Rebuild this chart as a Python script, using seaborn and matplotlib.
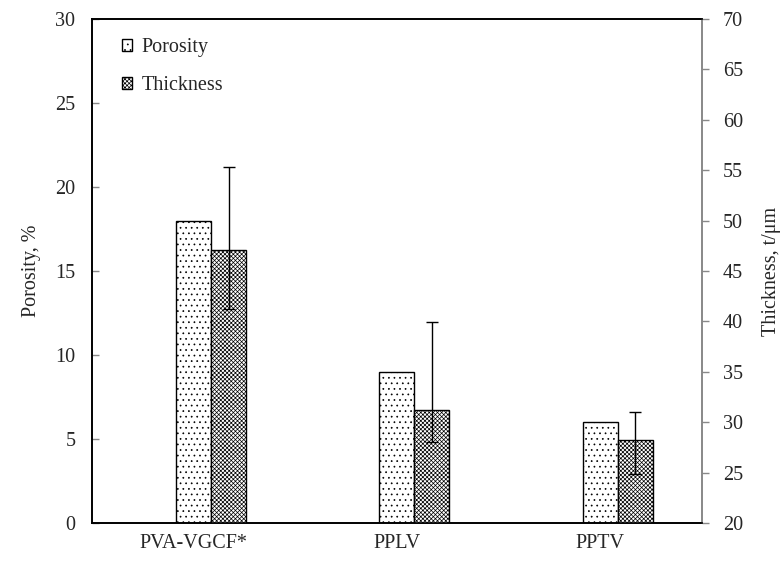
import numpy as np
import pandas as pd
import matplotlib
matplotlib.use("Agg")
import matplotlib.pyplot as plt
from matplotlib.patches import Patch
import seaborn as sns

# Data
categories = ["PVA-VGCF*", "PPLV", "PPTV"]
porosity = [18.0, 9.0, 6.0]                 # %
thickness = [47.1, 31.2, 28.2]              # µm
thickness_err_low = [5.9, 3.2, 3.3]
thickness_err_high = [8.2, 8.7, 2.8]
series = ["Porosity", "Thickness"]

sns.set_theme(style="white")
plt.rcParams["font.family"] = ["Liberation Serif", "DejaVu Serif"]
plt.rcParams["hatch.linewidth"] = 0.5
FS = 14.5
HATCH_P = "..."
HATCH_T = "xxxxxxxx"

fig = plt.figure(figsize=(7.84, 5.67), dpi=100)
ax1 = fig.add_axes([0.1173, 0.0776, 0.778, 0.889])
ax2 = ax1.twinx()

# three dodge slots per category: an empty leading slot keeps the porosity bar
# centred on its tick with the thickness bar just to its right
slots = ["_pad"] + series
n = len(categories)
df_left = pd.DataFrame({
    "cat": categories * 3,
    "series": [s for s in slots for _ in range(n)],
    "value": [np.nan] * n + porosity + [np.nan] * n,
})
df_right = pd.DataFrame({
    "cat": categories * 3,
    "series": [s for s in slots for _ in range(n)],
    "value": [np.nan] * n + [np.nan] * n + thickness,
})

bar_kw = dict(x="cat", y="value", hue="series", hue_order=slots, order=categories,
              palette=["white"] * 3, width=0.516, gap=0, edgecolor="black",
              linewidth=1.0, errorbar=None, legend=False, saturation=1)
sns.barplot(data=df_left, ax=ax1, **bar_kw)
sns.barplot(data=df_right, ax=ax2, **bar_kw)

for p in ax1.patches:
    p.set_hatch(HATCH_P)
for p in ax2.patches:
    p.set_hatch(HATCH_T)

# error bars on the thickness bars
thick_patches = [p for p in ax2.patches if np.isfinite(p.get_height()) and p.get_height() > 0]
thick_patches.sort(key=lambda p: p.get_x())
xs = [p.get_x() + p.get_width() / 2 for p in thick_patches]
ax2.errorbar(xs, thickness, yerr=[thickness_err_low, thickness_err_high], fmt="none",
             ecolor="black", elinewidth=1.0, capsize=4, capthick=1.0, zorder=5)

ax1.set_xlim(-0.5, 2.5)
ax1.set_ylim(0, 30)
ax1.set_yticks(np.arange(0, 31, 5))
ax2.set_ylim(20, 70)
ax2.set_yticks(np.arange(20, 71, 5))

ax1.set_xlabel("")
ax1.set_ylabel("Porosity, %", fontsize=FS, labelpad=10)
ax2.set_ylabel("Thickness, t/μm", fontsize=FS, labelpad=14)

ax1.tick_params(axis="y", direction="in", length=5, color="#888888", labelsize=FS, pad=12,
                left=True, width=1)
ax1.tick_params(axis="x", length=0, labelsize=FS, pad=8)
ax2.tick_params(axis="y", direction="out", length=5, color="#888888", labelsize=FS, pad=10,
                right=True, width=1)

for ax in (ax1, ax2):
    for side in ("left", "top", "bottom"):
        ax.spines[side].set_color("black")
        ax.spines[side].set_linewidth(1.2)
    ax.spines["right"].set_color("#888888")
    ax.spines["right"].set_linewidth(1.2)
    ax.grid(False)

handles = [Patch(facecolor="white", edgecolor="black", hatch=HATCH_P, label=series[0]),
           Patch(facecolor="white", edgecolor="black", hatch=HATCH_T, label=series[1])]
ax2.legend(handles=handles, loc="upper left", bbox_to_anchor=(0.019, 0.998), frameon=False,
           fontsize=FS, handlelength=0.5, handleheight=0.5, handletextpad=0.5,
           labelspacing=0.95, borderaxespad=0.5)

fig.savefig("out.png", dpi=100)
